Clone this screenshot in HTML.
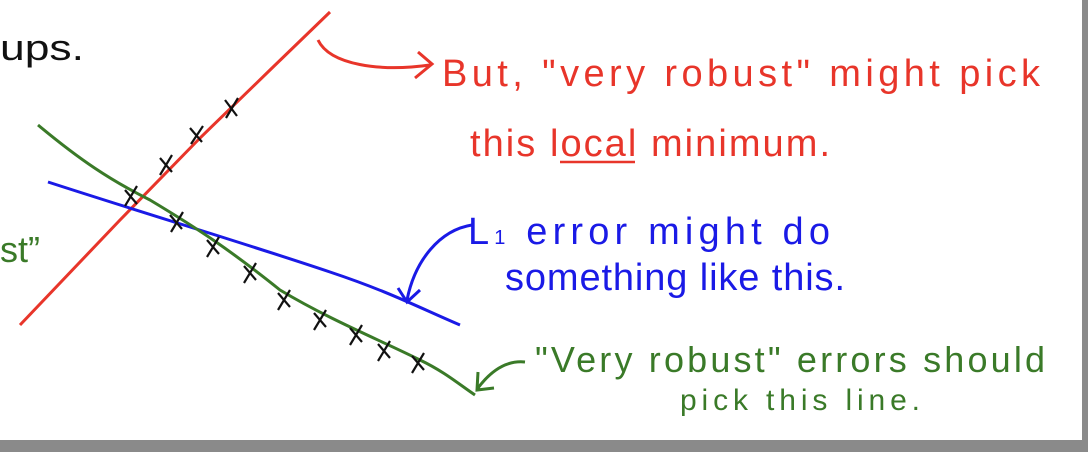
<!DOCTYPE html>
<html><head><meta charset="utf-8"><style>
html,body{margin:0;padding:0;background:#fff;}
body{width:1088px;height:452px;overflow:hidden;position:relative;}
svg{position:absolute;left:0;top:0;}
</style></head><body>
<svg width="1088" height="452" viewBox="0 0 1088 452" xmlns="http://www.w3.org/2000/svg">
<rect x="0" y="0" width="1088" height="452" fill="#fff"/>
<rect x="0" y="440" width="1088" height="12" fill="#8a8a8a"/>
<rect x="1082" y="0" width="6" height="452" fill="#8a8a8a"/>
<text x="0" y="60" font-family="Liberation Sans, sans-serif" font-size="36" fill="#111" textLength="84" lengthAdjust="spacingAndGlyphs">ups.</text>
<text x="0" y="262" font-family="Liberation Sans, sans-serif" font-size="36" fill="#3a7a28">st”</text>
<path d="M20,325 L120,220 L200,138 L270,70 L330,12" stroke="#e8352a" stroke-width="3" fill="none"/>
<path d="M48,182 C150,215 250,245 330,272 C390,292 420,308 460,325" stroke="#1a1ae6" stroke-width="3" fill="none"/>
<path d="M38,125 C80,160 110,180 150,200 C200,230 230,250 280,290 C330,320 380,340 420,360 C445,372 460,385 475,395" stroke="#3a7a28" stroke-width="3" fill="none"/>
<g stroke="#111" stroke-width="2.2" fill="none">
<path d="M225,100l12,16M238,98l-12,20"/>
<path d="M190,128l12,14M203,126l-12,18"/>
<path d="M160,158l12,14M172,155l-12,20"/>
<path d="M125,190l12,14M137,186l-12,20"/>
<path d="M170,215l12,14M183,212l-12,20"/>
<path d="M207,240l12,14M219,237l-12,20"/>
<path d="M244,266l12,14M256,263l-12,20"/>
<path d="M278,293l12,14M290,290l-12,20"/>
<path d="M314,313l12,14M326,310l-12,20"/>
<path d="M350,328l12,14M362,325l-12,20"/>
<path d="M378,344l12,14M390,341l-12,20"/>
<path d="M412,356l12,14M424,353l-12,20"/>
</g>
<path d="M318,40 C330,65 380,72 430,65 M418,52 L432,64 L415,78" stroke="#e8352a" stroke-width="3" fill="none"/>
<path d="M472,225 C440,230 415,260 407,300 M398,288 L407,302 L420,290" stroke="#1a1ae6" stroke-width="3" fill="none"/>
<path d="M525,362 C505,360 490,372 478,388 M478,372 L477,390 L494,388" stroke="#3a7a28" stroke-width="3" fill="none"/>
<g font-family="Liberation Sans, sans-serif" font-size="38">
<text x="442" y="86" fill="#e8352a" textLength="598" lengthAdjust="spacing">But, "very robust" might pick</text>
<text x="470" y="156" fill="#e8352a" textLength="360" lengthAdjust="spacing">this local minimum.</text>
<text x="468" y="244" fill="#1a1ae6" textLength="362" lengthAdjust="spacing">L<tspan font-size="20">1</tspan> error might do</text>
<text x="505" y="290" fill="#1a1ae6" textLength="340" lengthAdjust="spacing">something like this.</text>
<text x="535" y="372" fill="#3a7a28" font-size="36" textLength="510" lengthAdjust="spacing">"Very robust" errors should</text>
<text x="680" y="410" fill="#3a7a28" font-size="30" textLength="240" lengthAdjust="spacing">pick this line.</text>
</g>
<line x1="560" y1="162" x2="635" y2="162" stroke="#e8352a" stroke-width="2.5"/>
</svg>
</body></html>
